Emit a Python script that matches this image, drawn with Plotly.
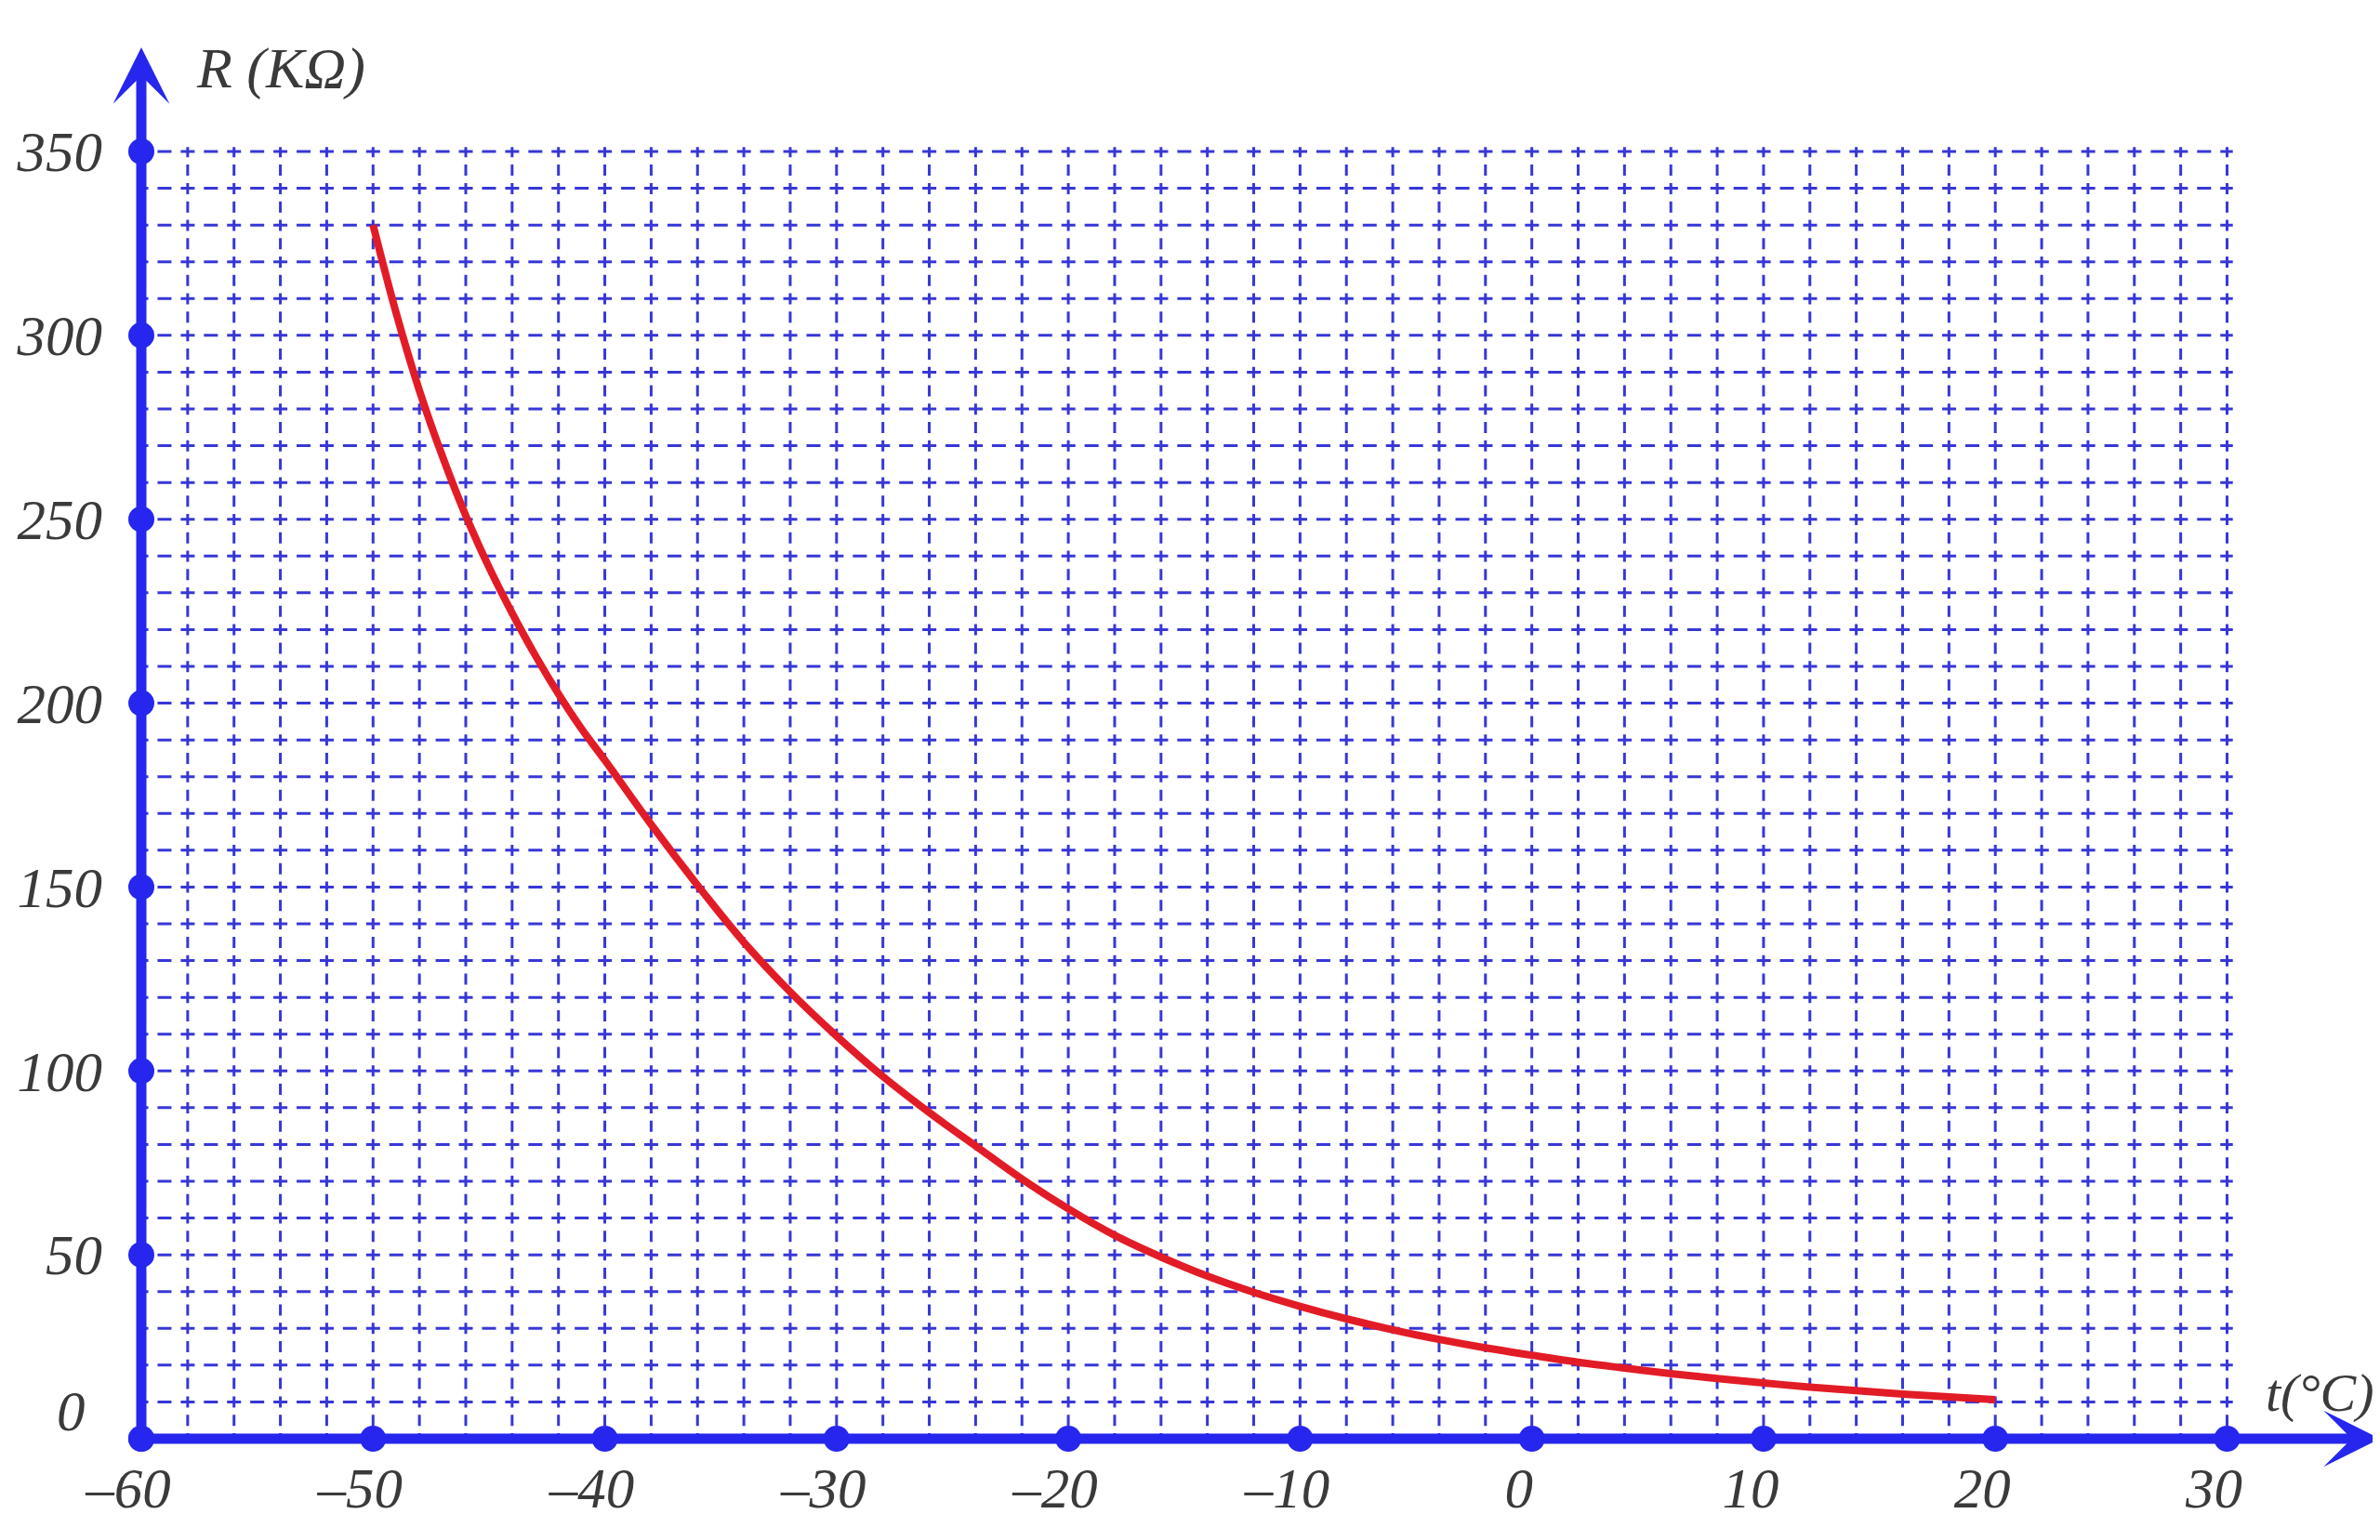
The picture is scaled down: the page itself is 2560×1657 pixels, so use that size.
import plotly.graph_objects as go

# ---------------- data ----------------
t_values = [-50, -49, -48, -47, -46, -45, -44, -43, -42, -41, -40, -38, -36, -34, -32,
            -30, -28, -26, -24, -22, -20, -18, -16, -14, -12, -10, -8, -6, -4, -2,
            0, 2, 4, 6, 8, 10, 12, 14, 16, 18, 20]
r_values = [330, 306, 285, 267, 251, 237, 224.5, 213, 202.5, 193, 184.5, 167, 150.5, 135, 121.5,
            109.5, 98.5, 88.7, 79.6, 70.6, 62.5, 55.3, 49.4, 44.2, 39.8, 36.0, 32.6, 29.6, 27.0, 24.7,
            22.7, 20.8, 19.2, 17.7, 16.35, 15.15, 14.05, 13.05, 12.15, 11.35, 10.6]

x_ticks = [-60, -50, -40, -30, -20, -10, 0, 10, 20, 30]
x_labels = ["–60", "–50", "–40", "–30", "–20", "–10", "0", "10", "20", "30"]
y_ticks = [0, 50, 100, 150, 200, 250, 300, 350]
y_labels = ["0", "50", "100", "150", "200", "250", "300", "350"]

grid_x = list(range(-58, 31, 2))     # vertical grid every 2 °C
grid_y = list(range(10, 351, 10))    # horizontal grid every 10 kΩ

x_title = "t(°C)"
y_title = "R (KΩ)"

# ---------------- style ----------------
AXIS_BLUE = "rgb(38,38,238)"
GRID_BLUE = "rgb(55,55,215)"
CURVE_RED = "rgb(226,28,38)"
TEXT_COL = "#3a3a3a"
SERIF = "Liberation Serif"

X_MIN, X_MAX = -60, 36.6
Y_MIN, Y_MAX = 0, 378.3
GRID_X0, GRID_X1 = -60, 30
GRID_Y0, GRID_Y1 = 0, 350

fig = go.Figure()

# grid (dashed)
shapes = []
for gx in grid_x:
    shapes.append(dict(type="line", xref="x", yref="y", x0=gx, x1=gx,
                       y0=GRID_Y0 - 1.5, y1=GRID_Y1 + 1.2, layer="below",
                       line=dict(color=GRID_BLUE, width=3, dash="12px,7.78px")))
for gy in grid_y:
    shapes.append(dict(type="line", xref="x", yref="y", x0=GRID_X0 - 0.3, x1=GRID_X1 + 0.25,
                       y0=gy, y1=gy, layer="below",
                       line=dict(color=GRID_BLUE, width=3, dash="15px,9.93px")))

# curve
fig.add_trace(go.Scatter(x=t_values, y=r_values, mode="lines",
                         line=dict(color=CURVE_RED, width=8, shape="spline", smoothing=1.0),
                         hoverinfo="skip", showlegend=False))

# tick dots
fig.add_trace(go.Scatter(x=x_ticks, y=[0] * len(x_ticks), mode="markers",
                         marker=dict(size=28, color=AXIS_BLUE), cliponaxis=False,
                         hoverinfo="skip", showlegend=False))
fig.add_trace(go.Scatter(x=[-60] * len(y_ticks), y=y_ticks, mode="markers",
                         marker=dict(size=28, color=AXIS_BLUE), cliponaxis=False,
                         hoverinfo="skip", showlegend=False))

tick_font = dict(family=SERIF, size=61, color=TEXT_COL, style="italic")

annotations = [
    # x axis with arrow
    dict(x=X_MAX, y=0, ax=-60, ay=0, xref="x", yref="y", axref="x", ayref="y",
         text="", showarrow=True, arrowhead=3, arrowsize=0.92, arrowwidth=11,
         arrowcolor=AXIS_BLUE, standoff=0, startstandoff=0),
    # y axis with arrow
    dict(x=-60, y=Y_MAX, ax=-60, ay=0, xref="x", yref="y", axref="x", ayref="y",
         text="", showarrow=True, arrowhead=3, arrowsize=0.92, arrowwidth=11,
         arrowcolor=AXIS_BLUE, standoff=0, startstandoff=0),
    dict(x=-54.0, y=372.5, xref="x", yref="y", text=y_title, showarrow=False,
         font=dict(family=SERIF, size=62, color=TEXT_COL, style="italic")),
    dict(x=34.0, y=12.5, xref="x", yref="y", text=x_title, showarrow=False,
         font=dict(family=SERIF, size=58, color=TEXT_COL, style="italic")),
    # the "0" of the R axis sits a little above the t axis in the original
    dict(x=GRID_X0, y=y_ticks[0], xref="x", yref="y", text=y_labels[0], showarrow=False,
         xanchor="right", yanchor="middle", xshift=-58, yshift=30, font=tick_font),
]

fig.update_layout(
    width=2560, height=1657,
    template="none",
    paper_bgcolor="white", plot_bgcolor="white",
    margin=dict(l=144, r=8, t=43, b=117, pad=0),
    showlegend=False,
    shapes=shapes,
    annotations=annotations,
    xaxis=dict(range=[X_MIN, X_MAX], tickmode="array", tickvals=x_ticks, ticktext=x_labels,
               showgrid=False, zeroline=False, showline=False, ticks="",
               tickfont=tick_font, ticklabelstandoff=12, ticklabelshift=-14,
               automargin=False, fixedrange=True),
    yaxis=dict(range=[Y_MIN, Y_MAX], tickmode="array", tickvals=y_ticks[1:], ticktext=y_labels[1:],
               showgrid=False, zeroline=False, showline=False, ticks="",
               tickfont=tick_font, ticklabelstandoff=41,
               automargin=False, fixedrange=True),
)

fig.write_html("out.html")
